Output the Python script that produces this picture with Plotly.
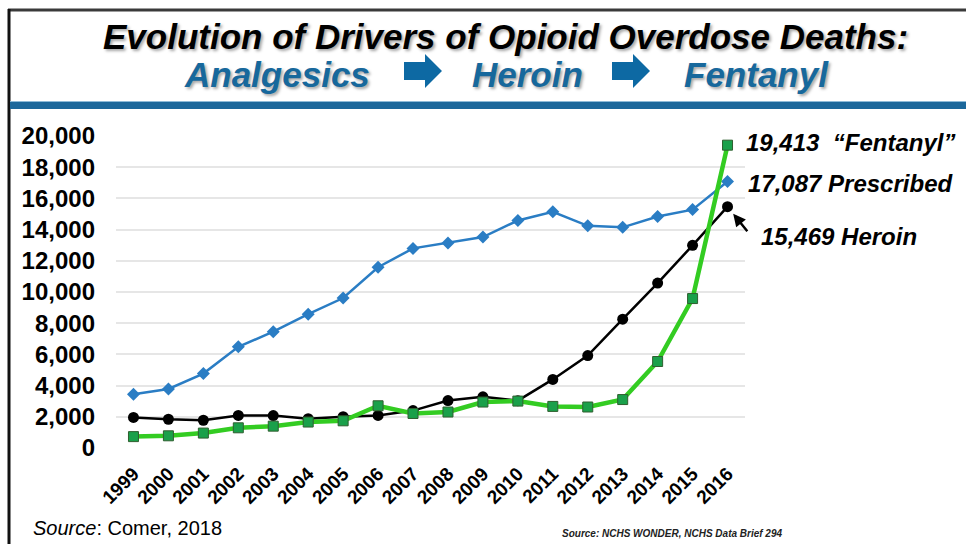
import plotly.graph_objects as go

# Opioid overdose deaths by driver, United States
years = [str(y) for y in range(1999, 2017)]
prescribed = [3442, 3785, 4770, 6483, 7456, 8577, 9612, 11589, 12796, 13149,
              13523, 14583, 15140, 14240, 14145, 14838, 15281, 17087]
heroin = [1960, 1842, 1779, 2089, 2080, 1878, 2009, 2088, 2399, 3041,
          3278, 3036, 4397, 5925, 8257, 10574, 12989, 15469]
fentanyl = [730, 782, 957, 1295, 1400, 1664, 1742, 2707, 2213, 2306,
            2946, 3007, 2666, 2628, 3105, 5544, 9580, 19413]
y_ticks = [0, 2000, 4000, 6000, 8000, 10000, 12000, 14000, 16000, 18000, 20000]

W, H = 966, 544
L, R, T, B = 116, 745, 136, 448
FONT = "Liberation Sans, Arial, sans-serif"
BLUE_TXT = "#17689c"
LAST = len(years) - 1  # category index of the final year


def px(x):
    return (x - L) / (R - L)


def py(y):
    return (B - y) / (B - T)


fig = go.Figure()

fig.add_trace(go.Scatter(
    x=years, y=prescribed, mode="lines+markers", name="Prescribed",
    line=dict(color="#2a7dc4", width=2.5),
    marker=dict(symbol="diamond", size=10, color="#2a7dc4"),
    cliponaxis=False,
))
fig.add_trace(go.Scatter(
    x=years, y=heroin, mode="lines+markers", name="Heroin",
    line=dict(color="#000000", width=2.5),
    marker=dict(symbol="circle", size=11, color="#000000"),
    cliponaxis=False,
))
fig.add_trace(go.Scatter(
    x=years, y=fentanyl, mode="lines+markers", name="Fentanyl",
    line=dict(color="#33cc22", width=4.5),
    marker=dict(symbol="square", size=10, color="#1aa04a",
                line=dict(color="#2f5f2f", width=1)),
    cliponaxis=False,
))

shadow = "2px 2px 3px rgba(0,0,0,0.35)"
ann = []

# Title block
ann.append(dict(
    text="Evolution of Drivers of Opioid Overdose Deaths:",
    x=px(505), y=py(36), xref="paper", yref="paper", showarrow=False,
    xanchor="center", yanchor="middle",
    font=dict(family=FONT, size=35, color="#000000", weight="bold",
              style="italic", shadow=shadow),
))
for word, cx in [("Analgesics", 277), ("Heroin", 527), ("Fentanyl", 756)]:
    ann.append(dict(
        text=word, x=px(cx), y=py(74), xref="paper", yref="paper",
        showarrow=False, xanchor="center", yanchor="middle",
        font=dict(family=FONT, size=35, color=BLUE_TXT, weight="bold",
                  style="italic", shadow=shadow),
    ))

# End-of-line value labels
lab_font = dict(family=FONT, size=24, color="#000000", weight="bold",
                style="italic")
ann.append(dict(
    text=f"{fentanyl[-1]:,}  \u201cFentanyl\u201d", x=LAST, y=fentanyl[-1],
    xref="x", yref="y", showarrow=False, xanchor="left", yanchor="middle",
    xshift=16, yshift=3, font=lab_font,
))
ann.append(dict(
    text=f"{prescribed[-1]:,} Prescribed", x=LAST, y=prescribed[-1],
    xref="x", yref="y", showarrow=False, xanchor="left", yanchor="middle",
    xshift=18, yshift=-2, font=lab_font,
))
ann.append(dict(
    text=f"{heroin[-1]:,} Heroin", x=LAST, y=heroin[-1],
    xref="x", yref="y", showarrow=False, xanchor="left", yanchor="middle",
    xshift=31, yshift=-30, font=lab_font,
))
ann.append(dict(
    text="", x=LAST, y=heroin[-1], xref="x", yref="y",
    showarrow=True, ax=21, ay=26, arrowhead=2, arrowsize=1,
    arrowwidth=2.5, arrowcolor="#000000", standoff=9,
))

# Source notes
ann.append(dict(
    text="<i>Source</i>: Comer, 2018", x=px(31), y=py(528),
    xref="paper", yref="paper", showarrow=False, xanchor="left",
    yanchor="middle", font=dict(family=FONT, size=20, color="#000000"),
))
ann.append(dict(
    text="Source: NCHS WONDER, NCHS Data Brief 294", x=px(560), y=py(533),
    xref="paper", yref="paper", showarrow=False, xanchor="left",
    yanchor="middle",
    font=dict(family=FONT, size=10, color="#222222", weight="bold",
              style="italic"),
))

# Frame, header rule and arrows between the headline words
shapes = [
    dict(type="line", xref="paper", yref="paper", x0=px(8), x1=px(W),
         y0=py(10), y1=py(10), line=dict(color="#3a3a3a", width=3)),
    dict(type="line", xref="paper", yref="paper", x0=px(9), x1=px(9),
         y0=py(9), y1=py(H), line=dict(color="#111111", width=3)),
    dict(type="rect", xref="paper", yref="paper", x0=px(10), x1=px(W),
         y0=py(101), y1=py(109), fillcolor="#1b679b", line=dict(width=0)),
    dict(type="line", xref="paper", yref="paper", x0=px(10), x1=px(W),
         y0=py(101.5), y1=py(101.5), line=dict(color="#8dbad8", width=1)),
]
for x0 in (404, 612):
    pts = [(x0, 62), (x0 + 21, 62), (x0 + 21, 54), (x0 + 38, 71),
           (x0 + 21, 88), (x0 + 21, 80), (x0, 80)]
    path = "M " + " L ".join(f"{px(a):.5f},{py(b):.5f}" for a, b in pts) + " Z"
    shapes.append(dict(type="path", xref="paper", yref="paper", path=path,
                       fillcolor="#0d69a3", line=dict(width=0)))

fig.update_layout(
    width=W, height=H,
    margin=dict(l=L, r=W - R, t=T, b=H - B, pad=0),
    paper_bgcolor="white", plot_bgcolor="white",
    showlegend=False,
    annotations=ann, shapes=shapes,
    xaxis=dict(
        type="category", range=[-0.5, len(years) - 0.5],
        showgrid=False, zeroline=False, showline=False, ticks="",
        tickangle=-45, ticklabelstandoff=10,
        tickfont=dict(family=FONT, size=19, color="#000000", weight="bold"),
    ),
    yaxis=dict(
        range=[0, 20000], tickvals=y_ticks, tickformat=",",
        showgrid=True, gridcolor="#e6e6e6", gridwidth=2,
        zeroline=False, showline=False, ticks="", ticklabelstandoff=20,
        tickfont=dict(family=FONT, size=24, color="#000000", weight="bold"),
    ),
)

fig.write_html("out.html")
